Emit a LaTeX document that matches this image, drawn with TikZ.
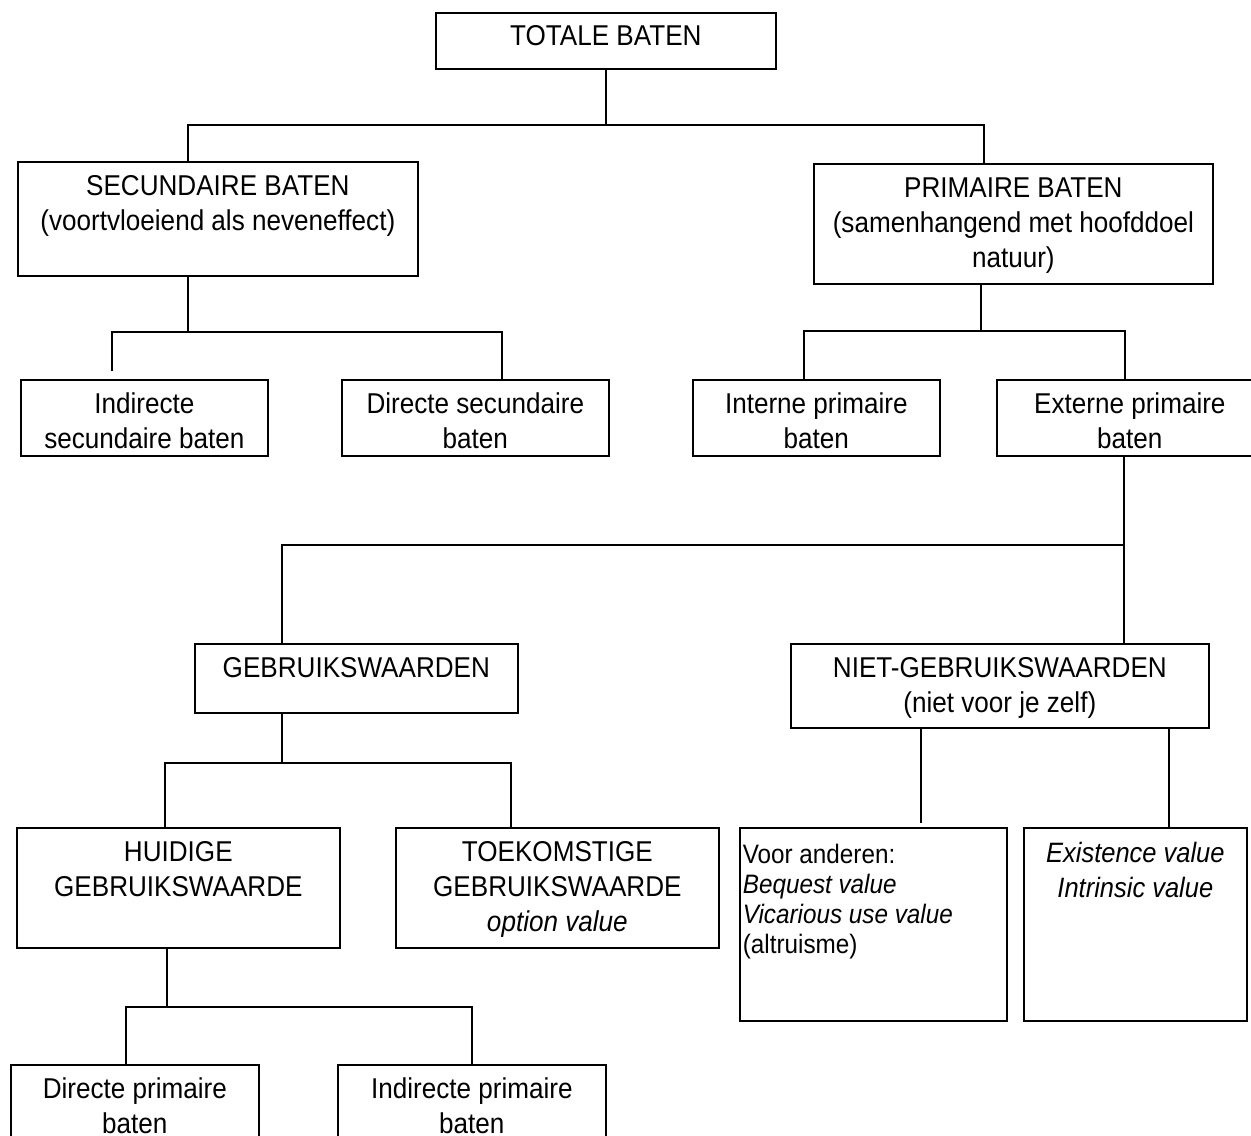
\documentclass[tikz,border=0pt]{standalone}
\usepackage{fontspec}
\setmainfont{Liberation Sans}[FakeStretch=0.91]
\usetikzlibrary{calc}
\newcommand\firstln{\rule{0pt}{25.5pt}}
\newcommand\mybox[7]{%
  \node[boxst, minimum width={(#4-#2)*0.75pt}, minimum height={(#5-#3)*0.75pt}, anchor=north west] (#1) at (#2,#3) {};
  \node[#6] (#1-t) at (#1.north) {#7};}
\begin{document}
\begin{tikzpicture}[x=0.75pt,y=-0.75pt, line width=1.25pt,
  boxst/.style={draw, rectangle, inner sep=0pt},
  txt/.style={anchor=north, inner sep=0pt, align=center, font=\fontsize{21.5}{26.25}\selectfont},
  smalltxt/.style={anchor=north, inner sep=0pt, align=center, font=\fontsize{21}{25.75}\selectfont},
  lefttxt/.style={anchor=north west, inner sep=0pt, align=left, font=\fontsize{20}{22.5}\selectfont}]
\clip (0,0) rectangle (1251,1135);
\fill[white] (0,0) rectangle (1251,1135);

% boxes
\mybox{tot}{435}{12}{775}{68}{txt}{\rule{0pt}{24.75pt}TOTALE BATEN}
\mybox{secu}{17}{161}{417}{275}{txt}{\firstln SECUNDAIRE BATEN\\(voortvloeiend als neveneffect)}
\mybox{prim}{813}{163}{1212}{283}{txt}{\firstln PRIMAIRE BATEN\\(samenhangend met hoofddoel\\natuur)}
\mybox{indsec}{20}{379}{267}{455}{txt}{\firstln Indirecte\\secundaire baten}
\mybox{dirsec}{341}{379}{608}{455}{txt}{\firstln Directe secundaire\\baten}
\mybox{intprim}{692}{379}{939}{455}{txt}{\firstln Interne primaire\\baten}
\mybox{extprim}{996}{379}{1262}{455}{txt}{\firstln Externe primaire\\baten}
\mybox{gebr}{194}{643}{517}{712}{txt}{\firstln GEBRUIKSWAARDEN}
\mybox{niet}{790}{643}{1208}{727}{txt}{\firstln NIET-GEBRUIKSWAARDEN\\(niet voor je zelf)}
\mybox{huid}{16}{827}{339}{947}{txt}{\firstln HUIDIGE\\GEBRUIKSWAARDE}
\mybox{toek}{395}{827}{718}{947}{txt}{\firstln TOEKOMSTIGE\\GEBRUIKSWAARDE\\\textit{option value}}
\mybox{exist}{1023}{827}{1246}{1020}{smalltxt}{\rule{0pt}{26.25pt}\textit{Existence value}\\\textit{Intrinsic value}}
\mybox{dirprim}{10}{1064}{258}{1160}{txt}{\firstln Directe primaire\\baten}
\mybox{indprim}{337}{1064}{605}{1160}{txt}{\firstln Indirecte primaire\\baten}
\node[boxst, minimum width={267*0.75pt}, minimum height={193*0.75pt}, anchor=north west] (voor) at (739,827) {};
\node[lefttxt] (voor-t) at ([xshift=2.25pt]voor.north west) {\rule{0pt}{27pt}Voor anderen:\\\textit{Bequest value}\\\textit{Vicarious use value}\\(altruisme)};

% junction coordinates
\coordinate (b1l) at (188,125); \coordinate (b1r) at (984,125);
\coordinate (b2l) at (112,332); \coordinate (b2r) at (502,332); \coordinate (e2l) at (112,371);
\coordinate (p3) at (981,331); \coordinate (b3l) at (804,331); \coordinate (b3r) at (1125,331);
\coordinate (b4l) at (282,545); \coordinate (b4r) at (1124,545);
\coordinate (b5l) at (165,763); \coordinate (b5r) at (511,763);
\coordinate (p6) at (167,1007); \coordinate (b6l) at (126,1007); \coordinate (b6r) at (472,1007);
\coordinate (e7) at (921,823); \coordinate (p7) at (1169,900);

% connectors
\draw (tot.south) -- (tot.south |- b1l);
\draw (secu.north -| b1l) -- (b1l) -- (b1r) -- (prim.north -| b1r);
\draw (secu.south -| b1l) -- (b1l |- b2l);
\draw (e2l) -- (b2l) -- (b2r) -- (dirsec.north -| b2r);
\draw (prim.south -| p3) -- (p3);
\draw (intprim.north -| b3l) -- (b3l) -- (b3r) -- (extprim.north -| b3r);
\draw (extprim.south -| b4r) -- (niet.north -| b4r);
\draw (gebr.north -| b4l) -- (b4l) -- (b4r);
\draw (gebr.south -| b4l) -- (b4l |- b5l);
\draw (huid.north -| b5l) -- (b5l) -- (b5r) -- (toek.north -| b5r);
\draw (huid.south -| p6) -- (p6);
\draw (dirprim.north -| b6l) -- (b6l) -- (b6r) -- (indprim.north -| b6r);
\draw (niet.south -| e7) -- (e7);
\draw (niet.south -| p7) -- (exist.north -| p7);
\end{tikzpicture}
\end{document}
